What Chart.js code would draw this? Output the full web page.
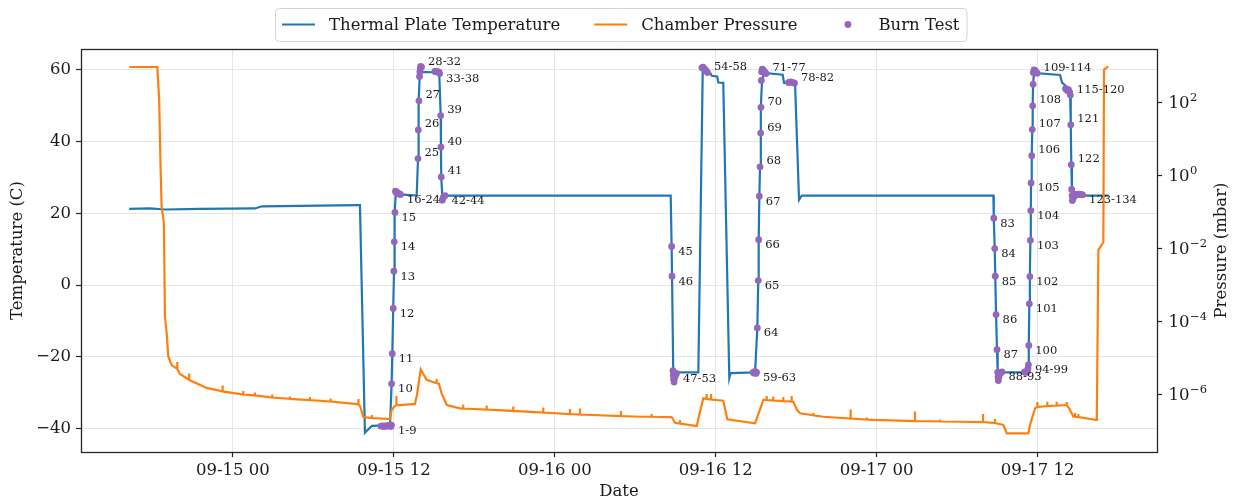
<!DOCTYPE html>
<html><head><meta charset="utf-8">
<script src="https://cdn.jsdelivr.net/npm/chart.js@4.4.0/dist/chart.umd.min.js"></script>
<style>html,body{margin:0;padding:0;background:#fff}#wrap{width:1238px;height:500px;position:relative}</style>
</head><body><div id="wrap"><canvas id="c" width="1238" height="500"></canvas></div>
<script>
// hours counted from 09-14 00:00
const tempHours = [16.27, 17.81, 18.93, 21.54, 25.64, 26.16, 33.32, 33.47, 33.84, 34.37,
  35.71, 35.83, 35.88, 35.95, 36.01, 36.03, 36.08, 36.15, 36.45, 37.70,
  37.80, 37.82, 37.87, 37.94, 39.38, 39.49, 39.51, 39.53, 39.61, 56.64,
  56.71, 56.74, 56.83, 57.04, 58.70, 59.03, 59.32, 59.62, 59.70, 60.11,
  60.19, 60.56, 61.01, 61.11, 62.93, 63.10, 63.17, 63.20, 63.25, 63.30,
  63.35, 63.37, 63.45, 63.60, 64.99, 65.09, 65.91, 66.21, 66.41, 80.70,
  80.73, 80.80, 80.84, 80.90, 80.97, 81.02, 83.25, 83.31, 83.34, 83.38,
  83.42, 83.46, 83.49, 83.51, 83.56, 83.60, 83.63, 83.66, 83.73, 85.67,
  85.82, 86.12, 86.42, 86.47, 86.51, 86.56, 86.79, 89.27];
const tempValues = [21.3, 21.4, 21.1, 21.3, 21.4, 22.0, 22.3, 22.3, -41.1, -39.2,
  -39.0, -27.5, -19.1, -6.5, 3.9, 12.1, 20.3, 25.9, 25.3, 25.0,
  35.3, 43.3, 51.4, 59.5, 59.3, 47.3, 38.5, 30.2, 25.0, 25.0,
  10.8, 2.5, -24.0, -24.3, -24.3, 60.3, 59.6, 59.0, 58.4, 58.2,
  56.5, 56.4, -25.9, -24.5, -24.3, -11.9, 1.3, 12.7, 24.8, 33.0,
  42.4, 49.6, 57.1, 59.2, 58.7, 56.4, 56.4, 23.8, 25.0, 25.0,
  18.7, 10.2, 2.5, -8.2, -18.0, -24.3, -24.3, -22.2, -16.8, -5.2,
  2.4, 12.5, 20.8, 28.5, 36.1, 43.4, 50.0, 56.0, 59.2, 58.6,
  56.5, 55.5, 54.0, 44.7, 33.6, 26.2, 25.0, 25.0];

const pressureHours = [16.27, 18.36, 18.50, 18.59, 18.68, 18.85, 18.93, 19.06, 19.18, 19.43,
  19.85, 19.85, 19.85, 20.05, 20.74, 20.74, 20.74, 22.04, 23.23, 23.23,
  23.23, 24.77, 24.77, 24.77, 25.64, 25.64, 25.64, 26.93, 26.93, 26.93,
  28.25, 28.25, 28.25, 29.74, 29.74, 29.74, 31.29, 31.29, 31.29, 33.10,
  33.36, 33.36, 33.36, 33.47, 33.72, 33.97, 34.37, 34.37, 34.37, 35.71,
  35.83, 36.01, 36.19, 36.19, 36.19, 36.45, 37.57, 37.72, 38.00, 38.44,
  39.19, 39.19, 39.19, 39.36, 39.56, 39.94, 40.93, 41.17, 41.17, 41.17,
  42.92, 42.92, 42.92, 44.90, 44.90, 44.90, 47.14, 47.14, 47.14, 49.13,
  49.13, 49.13, 49.88, 49.88, 49.88, 52.93, 52.93, 52.93, 54.35, 55.22,
  55.22, 55.22, 56.71, 56.96, 57.33, 57.33, 57.33, 58.58, 58.82, 59.07,
  59.32, 59.32, 59.32, 59.65, 59.65, 59.65, 60.56, 60.86, 62.93, 63.15,
  63.55, 63.80, 63.80, 63.80, 64.29, 64.29, 64.29, 65.04, 65.04, 65.04,
  65.66, 65.66, 65.66, 65.78, 66.06, 66.28, 67.27, 67.27, 67.27, 68.02,
  70.06, 70.06, 70.06, 71.26, 71.26, 71.26, 71.75, 74.86, 74.86, 74.86,
  76.72, 76.72, 76.72, 78.21, 79.93, 79.93, 79.93, 80.82, 80.82, 80.82,
  81.44, 81.70, 83.31, 83.43, 83.81, 83.98, 83.98, 83.98, 84.72, 84.72,
  84.72, 85.42, 85.42, 85.42, 86.17, 86.17, 86.17, 86.34, 86.66, 86.79,
  86.79, 86.79, 87.04, 87.04, 87.04, 88.41, 88.53, 88.78, 88.90, 88.95,
  89.27];
const pressureMbar = [950, 950, 121, 2.74, 0.144, 0.0506, 1.4e-4, 4.9e-5, 1.12e-5, 6.6e-6,
  5.15e-6, 8.0e-6, 5.15e-6, 3.76e-6, 2.58e-6, 3.88e-6, 2.58e-6, 1.56e-6, 1.25e-6, 1.82e-6,
  1.25e-6, 1.03e-6, 1.29e-6, 1.03e-6, 9.7e-7, 1.17e-6, 9.7e-7, 8.5e-7, 1.03e-6, 8.5e-7,
  7.8e-7, 9.1e-7, 7.8e-7, 7.3e-7, 8.8e-7, 7.3e-7, 6.6e-7, 8.0e-7, 6.6e-7, 5.7e-7,
  5.5e-7, 7.8e-7, 5.5e-7, 5.0e-7, 2.54e-7, 2.45e-7, 2.34e-7, 2.83e-7, 2.34e-7, 2.2e-7,
  3.88e-7, 4.69e-7, 5.3e-7, 9.4e-7, 5.3e-7, 5.3e-7, 5.7e-7, 1.0e-6, 5.06e-6, 2.6e-6,
  2.09e-6, 2.74e-6, 2.09e-6, 2.0e-6, 1.11e-6, 5.3e-7, 4.32e-7, 4.27e-7, 5.5e-7, 4.27e-7,
  4.0e-7, 5.15e-7, 4.0e-7, 3.65e-7, 4.84e-7, 3.65e-7, 3.32e-7, 4.55e-7, 3.32e-7, 3.01e-7,
  4.13e-7, 3.01e-7, 2.92e-7, 4.27e-7, 2.92e-7, 2.66e-7, 3.65e-7, 2.66e-7, 2.54e-7, 2.54e-7,
  3.01e-7, 2.54e-7, 2.49e-7, 1.74e-7, 1.66e-7, 2.07e-7, 1.66e-7, 1.41e-7, 3.42e-7, 8.1e-7,
  7.8e-7, 1.06e-6, 7.8e-7, 7.5e-7, 1.06e-6, 7.5e-7, 6.98e-7, 2.16e-7, 1.68e-7, 2.83e-7,
  7.3e-7, 7.3e-7, 9.4e-7, 7.3e-7, 7.06e-7, 9.1e-7, 7.06e-7, 6.85e-7, 8.8e-7, 6.85e-7,
  6.6e-7, 9.4e-7, 6.6e-7, 6.55e-7, 3.88e-7, 3.15e-7, 2.78e-7, 3.27e-7, 2.78e-7, 2.54e-7,
  2.27e-7, 4.0e-7, 2.27e-7, 2.13e-7, 2.42e-7, 2.13e-7, 2.07e-7, 1.94e-7, 3.53e-7, 1.94e-7,
  1.88e-7, 2.13e-7, 1.88e-7, 1.85e-7, 1.82e-7, 3.01e-7, 1.82e-7, 1.71e-7, 2.2e-7, 1.71e-7,
  1.51e-7, 8.9e-8, 8.9e-8, 1.51e-7, 4.32e-7, 4.69e-7, 6.43e-7, 4.69e-7, 5.0e-7, 6.55e-7,
  5.0e-7, 5.15e-7, 6.55e-7, 5.15e-7, 5.3e-7, 6.43e-7, 5.3e-7, 4.4e-7, 2.54e-7, 2.54e-7,
  3.21e-7, 2.54e-7, 2.49e-7, 3.01e-7, 2.49e-7, 2.07e-7, 9.4e-3, 1.29e-2, 1.49e-2, 802,
  988];

// burn tests 1..134
const burnHours = [
  35.04, 35.15, 35.26, 35.37, 35.48, 35.59, 35.71, 35.77, 35.82,
  35.83, 35.88, 35.95, 36.00, 36.03, 36.08,
  36.12, 36.15, 36.19, 36.23, 36.27, 36.30, 36.36, 36.42, 36.49,
  37.80, 37.82, 37.87,
  37.91, 37.94, 37.97, 38.00, 38.06,
  39.06, 39.14, 39.21, 39.29, 39.36, 39.41,
  39.49, 39.51, 39.53,
  39.61, 39.68, 39.81,
  56.71, 56.74,
  56.81, 56.83, 56.86, 56.89, 56.92, 57.00, 57.07,
  58.97, 59.05, 59.16, 59.27, 59.38,
  62.78, 62.85, 62.93, 62.99, 63.04,
  63.10, 63.17, 63.20, 63.25, 63.30, 63.35, 63.37,
  63.40, 63.42, 63.47, 63.52, 63.60, 63.67, 63.75,
  65.42, 65.54, 65.65, 65.76, 65.87,
  80.73, 80.80, 80.84, 80.90, 80.97,
  81.02, 81.05, 81.07, 81.12, 81.23, 81.34,
  83.02, 83.10, 83.17, 83.25, 83.28, 83.31,
  83.34, 83.38, 83.42, 83.46, 83.49, 83.51, 83.56, 83.60, 83.63,
  83.66, 83.68, 83.73, 83.81, 83.88, 83.96,
  86.08, 86.15, 86.23, 86.30, 86.38, 86.44,
  86.47, 86.51,
  86.54, 86.57, 86.59, 86.64, 86.72, 86.79, 86.86, 86.94, 87.01, 87.12, 87.23, 87.35];
const burnTemps = [
  -39.3, -39.2, -39.4, -39.2, -39.3, -39.1, -39.2, -39.4, -39.0,
  -27.5, -19.1, -6.5, 3.9, 12.1, 20.3,
  26.2, 26.0, 25.9, 25.8, 25.7, 25.6, 25.5, 25.4, 25.3,
  35.3, 43.3, 51.4,
  58.2, 59.5, 60.5, 61.0, 60.8,
  59.6, 59.6, 59.5, 59.5, 59.4, 59.0,
  47.3, 38.5, 30.2,
  23.7, 24.5, 25.0,
  10.8, 2.5,
  -23.8, -25.0, -26.2, -27.0, -26.0, -25.2, -24.6,
  60.6, 60.8, 60.3, 59.8, 59.3,
  -24.3, -24.5, -24.0, -24.6, -24.3,
  -11.9, 1.3, 12.7, 24.8, 33.0, 42.4, 49.6,
  57.1, 59.5, 60.2, 60.0, 59.6, 59.3, 59.0,
  56.5, 56.7, 56.6, 56.5, 56.3,
  18.7, 10.2, 2.5, -8.2, -18.0,
  -24.3, -25.6, -26.6, -25.5, -24.5, -24.2,
  -24.2, -24.3, -24.2, -24.0, -23.2, -22.2,
  -16.8, -5.2, 2.4, 12.5, 20.8, 28.5, 36.1, 43.4, 50.0,
  56.0, 59.3, 60.0, 59.8, 59.4, 59.1,
  54.8, 54.6, 54.2, 54.5, 53.9, 53.0,
  44.7, 33.6,
  26.7, 25.0, 23.6, 24.2, 24.8, 25.2, 25.3, 25.2, 25.3, 25.4, 25.3, 25.2];
const burnLabels = ["1-9", "10", "11", "12", "13", "14", "15", "16-24", "25", "26", "27", "28-32",
  "33-38", "39", "40", "41", "42-44", "45", "46", "47-53", "54-58", "59-63",
  "64", "65", "66", "67", "68", "69", "70", "71-77", "78-82",
  "83", "84", "85", "86", "87", "88-93", "94-99",
  "100", "101", "102", "103", "104", "105", "106", "107", "108", "109-114", "115-120",
  "121", "122", "123-134"];
const labelsBelowAnyway = ["33-38"];

const xTickHours = [24, 36, 48, 60, 72, 84];
const tempTicks = [-40, -20, 0, 20, 40, 60];
const pressureTicks = [1e-6, 1e-4, 1e-2, 1, 100];
const pressureTickBase = "10";
const pressureTickExponents = ["\u22126", "\u22124", "\u22122", "0", "2"];

const FONT = "'DejaVu Serif', serif";
const FS = 16.5;
const TEXT = '#1a1a1a';
const AXIS = '#262626';
const GRID = '#e6e6e6';
const BLUE = '#1f77b4', ORANGE = '#ff7f0e', PURPLE = '#9467bd';

function hourLabel(h) {
  const day = 14 + Math.floor(h / 24);
  const hr = Math.round(h % 24);
  return '09-' + String(day).padStart(2, '0') + ' ' + String(hr).padStart(2, '0');
}

const framePlugin = {
  id: 'frame',
  afterDraw(chart) {
    const {ctx, chartArea: a} = chart;
    ctx.save();
    ctx.strokeStyle = AXIS;
    ctx.lineWidth = 1.3;
    ctx.strokeRect(Math.round(a.left) + 0.5, Math.round(a.top) + 0.5, Math.round(a.right - a.left), Math.round(a.bottom - a.top));
    // right tick labels with superscript exponents
    const ys = chart.scales.yP;
    ctx.fillStyle = TEXT;
    ctx.textAlign = 'left';
    ctx.textBaseline = 'middle';
    pressureTicks.forEach((v, i) => {
      const py = ys.getPixelForValue(v);
      const x = ys.left + 5 + 6.5;
      ctx.font = FS + 'px ' + FONT;
      ctx.fillText(pressureTickBase, x, py + 1);
      const w = ctx.measureText(pressureTickBase).width;
      ctx.font = (FS * 0.7).toFixed(1) + 'px ' + FONT;
      ctx.fillText(pressureTickExponents[i], x + w + 0.5, py - 5);
    });
    // right axis title (reads bottom to top)
    ctx.font = FS + 'px ' + FONT;
    ctx.textAlign = 'center';
    ctx.translate(1222, (a.top + a.bottom) / 2);
    ctx.rotate(-Math.PI / 2);
    ctx.fillText('Pressure (mbar)', 0, 0);
    ctx.restore();
  }
};

const burnLabelPlugin = {
  id: 'burnLabels',
  afterDatasetsDraw(chart) {
    const {ctx} = chart;
    const xs = chart.scales.x, ys = chart.scales.yT;
    ctx.save();
    ctx.font = '11.5px ' + FONT;
    ctx.fillStyle = TEXT;
    ctx.textAlign = 'left';
    ctx.textBaseline = 'middle';
    burnLabels.forEach(t => {
      const i = parseInt(t.split('-').pop(), 10) - 1;
      const px = xs.getPixelForValue(burnHours[i]);
      const py = ys.getPixelForValue(burnTemps[i]);
      const above = burnTemps[i] >= 30 && !labelsBelowAnyway.includes(t);
      ctx.fillText(t, px + 6.5, py + (above ? -5.5 : 5.5));
    });
    ctx.restore();
  }
};

const legendPlugin = {
  id: 'mplLegend',
  afterDraw(chart) {
    const {ctx} = chart;
    const ds = chart.data.datasets;
    const items = [ds[2], ds[0], ds[1]].map(d => ({text: d.label, kind: d.type === 'scatter' ? 'dot' : 'line', color: d.borderColor || d.backgroundColor}));
    ctx.save();
    ctx.font = FS + 'px ' + FONT;
    const handle = 33, gap = 14, colGap = 34, padX = 7;
    const widths = items.map(it => ctx.measureText(it.text).width);
    let total = padX * 2 + colGap * (items.length - 1);
    widths.forEach(w => total += handle + gap + w);
    const x0 = Math.round(chart.width / 2 - total / 2 + 2);
    const y0 = 8, h = 33, cy = y0 + h / 2;
    ctx.beginPath();
    if (ctx.roundRect) ctx.roundRect(x0 + 0.5, y0 + 0.5, total, h, 4); else ctx.rect(x0 + 0.5, y0 + 0.5, total, h);
    ctx.fillStyle = 'rgba(255,255,255,0.85)';
    ctx.fill();
    ctx.strokeStyle = '#d4d4d4';
    ctx.lineWidth = 1;
    ctx.stroke();
    let x = x0 + padX;
    items.forEach((it, k) => {
      if (it.kind === 'line') {
        ctx.strokeStyle = it.color;
        ctx.lineWidth = 2.2;
        ctx.beginPath();
        ctx.moveTo(x, cy);
        ctx.lineTo(x + handle, cy);
        ctx.stroke();
      } else {
        ctx.fillStyle = it.color;
        ctx.beginPath();
        ctx.arc(x + handle / 2, cy, 3.4, 0, Math.PI * 2);
        ctx.fill();
      }
      ctx.fillStyle = TEXT;
      ctx.textAlign = 'left';
      ctx.textBaseline = 'middle';
      ctx.fillText(it.text, x + handle + gap, cy + 1);
      x += handle + gap + widths[k] + colGap;
    });
    ctx.restore();
  }
};

const chart = new Chart(document.getElementById('c').getContext('2d'), {
  type: 'line',
  data: {
    datasets: [
      {label: 'Chamber Pressure', data: pressureHours.map((h, i) => ({x: h, y: pressureMbar[i]})), yAxisID: 'yP',
        borderColor: ORANGE, backgroundColor: ORANGE, borderWidth: 2.2, pointRadius: 0, tension: 0, order: 0},
      {label: 'Burn Test', type: 'scatter', data: burnHours.map((h, i) => ({x: h, y: burnTemps[i]})), yAxisID: 'yT',
        backgroundColor: PURPLE, borderColor: PURPLE, borderWidth: 0, pointRadius: 3.4, showLine: false, order: 1},
      {label: 'Thermal Plate Temperature', data: tempHours.map((h, i) => ({x: h, y: tempValues[i]})), yAxisID: 'yT',
        borderColor: BLUE, backgroundColor: BLUE, borderWidth: 2.2, pointRadius: 0, tension: 0, order: 2}
    ]
  },
  options: {
    responsive: false,
    animation: false,
    devicePixelRatio: 1,
    layout: {padding: {top: 49, left: 0, right: 0, bottom: 0}},
    plugins: {legend: {display: false}, tooltip: {enabled: false}},
    scales: {
      x: {
        type: 'linear', min: 12.67, max: 92.9,
        afterBuildTicks: s => { s.ticks = xTickHours.map(v => ({value: v})); },
        afterFit: s => { s.height = 48; },
        ticks: {callback: v => hourLabel(v), font: {family: FONT, size: FS}, color: TEXT, padding: 4, maxRotation: 0, autoSkip: false},
        grid: {color: GRID, lineWidth: 1, tickColor: AXIS, tickLength: 5, tickWidth: 1.2},
        border: {display: false},
        title: {display: true, text: 'Date', font: {family: FONT, size: FS, lineHeight: 1}, color: TEXT, padding: {top: 0, bottom: 0}}
      },
      yT: {
        type: 'linear', position: 'left', min: -46.5, max: 65.85,
        afterBuildTicks: s => { s.ticks = tempTicks.map(v => ({value: v})); },
        afterFit: s => { s.width = 81; },
        ticks: {callback: v => String(v).replace('-', '\u2212'), font: {family: FONT, size: FS}, color: TEXT, padding: 5},
        grid: {color: GRID, lineWidth: 1, tickColor: AXIS, tickLength: 5, tickWidth: 1.2},
        border: {display: false},
        title: {display: true, text: 'Temperature (C)', font: {family: FONT, size: FS}, color: TEXT, padding: {top: 8, bottom: 0}}
      },
      yP: {
        type: 'logarithmic', position: 'right', min: 2.75e-8, max: 2950,
        afterBuildTicks: s => { s.ticks = pressureTicks.map(v => ({value: v})); },
        afterFit: s => { s.width = 81; },
        ticks: {display: false},
        grid: {drawOnChartArea: false, tickColor: AXIS, tickLength: 5, tickWidth: 1.2},
        border: {display: false},
        title: {display: false}
      }
    }
  },
  plugins: [burnLabelPlugin, framePlugin, legendPlugin]
});
</script></body></html>
